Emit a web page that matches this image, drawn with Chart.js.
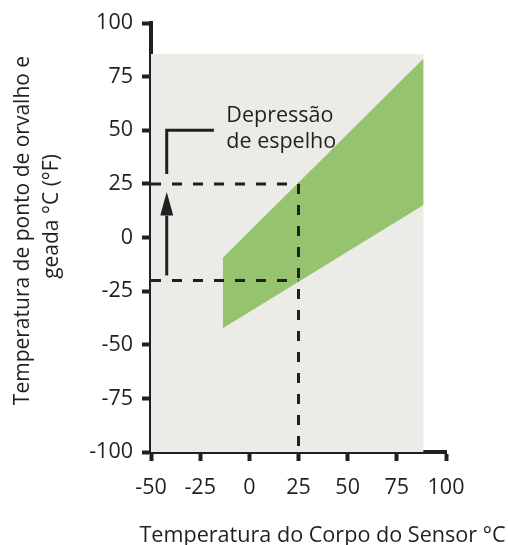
<!DOCTYPE html>
<html><head><meta charset="utf-8">
<script src="https://cdn.jsdelivr.net/npm/chart.js@4.4.1/dist/chart.umd.min.js"></script>
<style>html,body{margin:0;padding:0;background:#fff}#wrap{width:508px;height:545px}</style>
</head><body><div id="wrap"><canvas id="c" width="508" height="545"></canvas></div>
<script>
// ---- data ----
const xTicks = [-50, -25, 0, 25, 50, 75, 100];
const yTicks = [-100, -75, -50, -25, 0, 25, 50, 75, 100];
const regionX = [-50, 88.6];          // grey operating region (x extent)
const regionTop = [85.5, 85.5];       // grey operating region top
const bandX = [-13.5, 88.6];          // green band x extent
const bandUpper = [-9.4, 83.5];       // green band upper edge
const bandLower = [-42.3, 15.2];      // green band lower edge
const exampleSensor = [-50, 25];      // sensor body temp guide (x)
const exampleDew = [25, 25];          // dew point guide (y)
const exampleFrost = [-20, -20];      // lower guide (y)
const verticalGuideX = [25, 25];
const verticalGuideY = [25, -100];
const arrowX = [-42, -42];
const arrowShaftY = [-17.7, 10.2];
const arrowHeadX = [-45.3, -42, -38.7];
const arrowHeadY = [10.2, 21.2, 10.2];
const bracketX = [-42, -42, -18];
const bracketY = [29.6, 50, 50];
const noteLines = ['Depressão', 'de espelho'];
const noteX = -11.7;
const noteY = [53.9, 41.6];
const xTitle = 'Temperatura do Corpo do Sensor °C';
const yTitle = ['Temperatura de ponto de orvalho e', 'geada °C (°F)'];

const ink = '#231f20';
const pts = (xs, ys) => xs.map((v, i) => ({x: v, y: ys[i]}));
const base = {pointRadius: 0, borderWidth: 0, fill: false, tension: 0};

Chart.defaults.font.family = "'Open Sans', sans-serif";
Chart.defaults.font.size = 21;
Chart.defaults.color = ink;

const textPlugin = {
  id: 'texts',
  afterDraw(chart) {
    const {ctx, scales: {x, y}} = chart;
    ctx.save();
    ctx.fillStyle = ink;
    ctx.textBaseline = 'alphabetic';
    ctx.textAlign = 'left';
    ctx.font = "21.5px 'Open Sans'";
    noteLines.forEach((t, i) => ctx.fillText(t, x.getPixelForValue(noteX), y.getPixelForValue(noteY[i])));
    ctx.textAlign = 'center';
    ctx.font = "21.6px 'Open Sans'";
    ctx.fillText(xTitle, 322.5, 541.5);
    ctx.font = "21px 'Open Sans'";
    const bx = [29, 57.5], cy = [230.5, 216.5];
    yTitle.forEach((t, i) => {
      ctx.save(); ctx.translate(bx[i], cy[i]); ctx.rotate(-Math.PI / 2);
      ctx.fillText(t, 0, 0); ctx.restore();
    });
    ctx.restore();
  }
};

new Chart(document.getElementById('c'), {
  type: 'line',
  data: {
    datasets: [
      {...base, label: 'region', data: pts(regionX, regionTop), backgroundColor: '#ebece8', fill: 'start', order: 10},
      {...base, label: 'bandUpper', data: pts(bandX, bandUpper), backgroundColor: '#96c36e', fill: '+1', order: 9},
      {...base, label: 'bandLower', data: pts(bandX, bandLower), order: 8},
      {...base, label: 'dew', data: pts(exampleSensor, exampleDew), borderColor: ink, borderWidth: 3, borderDash: [10, 11], order: 5},
      {...base, label: 'frost', data: pts(exampleSensor, exampleFrost), borderColor: ink, borderWidth: 3, borderDash: [10, 11], order: 5},
      {...base, label: 'vguide', data: pts(verticalGuideX, verticalGuideY), borderColor: ink, borderWidth: 3, borderDash: [10, 11], order: 5},
      {...base, label: 'shaft', data: pts(arrowX, arrowShaftY), borderColor: ink, borderWidth: 3, order: 2},
      {...base, label: 'head', data: pts(arrowHeadX, arrowHeadY), backgroundColor: ink, fill: {value: arrowHeadY[0]}, order: 1},
      {...base, label: 'bracket', data: pts(bracketX, bracketY), borderColor: ink, borderWidth: 3, borderCapStyle: 'butt', borderJoinStyle: 'miter', order: 1}
    ]
  },
  options: {
    responsive: false,
    animation: false,
    events: [],
    layout: {padding: {top: 23, right: 62, bottom: 0, left: 0}},
    plugins: {legend: {display: false}, tooltip: {enabled: false}},
    scales: {
      x: {
        type: 'linear', min: -50, max: 100, z: 1,
        afterBuildTicks: s => { s.ticks = xTicks.map(v => ({value: v})); },
        afterFit: s => { s.height = 93; },
        border: {display: true, color: ink, width: 4},
        grid: {display: true, drawOnChartArea: false, drawTicks: true, tickLength: 9, tickWidth: 4, tickColor: ink},
        ticks: {padding: 14, color: ink, font: {size: 21.5}, maxRotation: 0, autoSkip: false}
      },
      y: {
        type: 'linear', min: -100, max: 100, z: 1,
        afterBuildTicks: s => { s.ticks = yTicks.map(v => ({value: v})); },
        afterFit: s => { s.width = 151; },
        border: {display: true, color: ink, width: 4},
        grid: {display: true, drawOnChartArea: false, drawTicks: true, tickLength: 9, tickWidth: 4, tickColor: ink},
        ticks: {padding: 9, color: ink, font: {size: 21.5}, autoSkip: false}
      }
    }
  },
  plugins: [textPlugin]
});
</script></body></html>
